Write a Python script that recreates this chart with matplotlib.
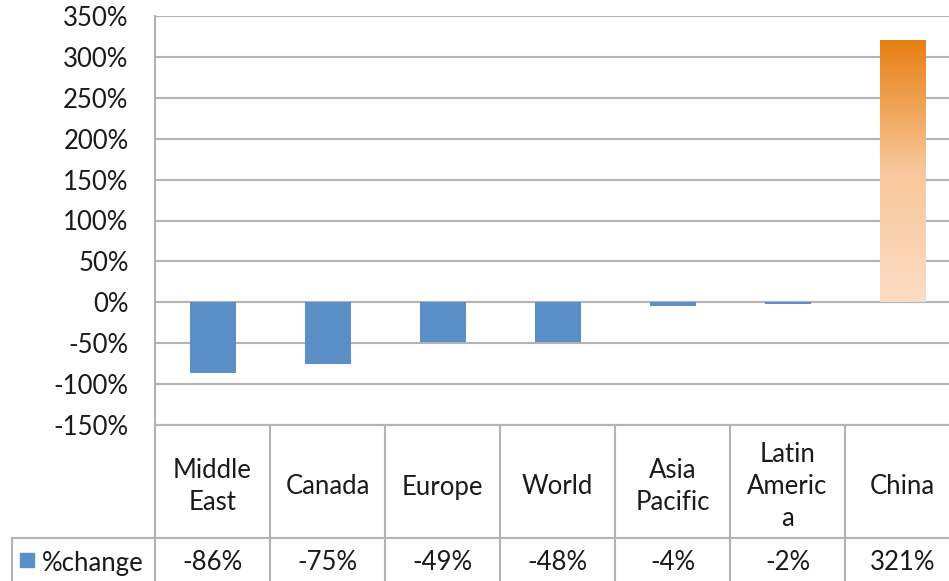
import numpy as np
import matplotlib.pyplot as plt
from matplotlib.transforms import blended_transform_factory
from matplotlib.colors import LinearSegmentedColormap
from matplotlib.patches import Rectangle

regions = ["Middle\nEast", "Canada", "Europe", "World", "Asia\nPacific", "Latin\nAmeric\na", "China"]
pct_change = [-86, -75, -49, -48, -4, -2, 321]
row_label = "%change"
yticks = list(range(-150, 351, 50))

plt.rcParams['font.family'] = ['Lato', 'DejaVu Sans']
fs = 18.5
txt_col = "#1a1a1a"
grid_col = "#b3b3b3"
blue = "#5b8fc8"

col_w = 115.0
fig = plt.figure(figsize=(9.49, 5.81), dpi=100)
ax = fig.add_axes([155 / 949, 1 - 425 / 581, 7 * col_w / 949, 409 / 581])

x = np.arange(len(regions))
bars = ax.bar(x, pct_change, width=0.4, color=blue, zorder=3)

# China bar gets the orange gradient
china = bars[-1]
china.set_facecolor("none")
cmap = LinearSegmentedColormap.from_list("org", ["#fbdcc4", "#f9c79b", "#e77f11"])
grad = np.linspace(0, 1, 256).reshape(-1, 1)
x0, w = china.get_x(), china.get_width()
im = ax.imshow(grad, cmap=cmap, aspect="auto", origin="lower",
               extent=[x0, x0 + w, 0, pct_change[-1]], zorder=3)
im.set_clip_path(china)

ax.set_xlim(-0.5, len(regions) - 0.5)
ax.set_ylim(-150, 350)
ax.set_yticks(yticks)
ax.set_yticklabels([f"{v}%" for v in yticks], fontsize=fs, color=txt_col)
ax.set_xticks([])
ax.tick_params(axis="y", length=0, pad=19)
ax.yaxis.grid(True, color=grid_col, lw=1.5, zorder=0)
for s in ["top", "right", "bottom"]:
    ax.spines[s].set_visible(False)
ax.spines["left"].set_color(grid_col)
ax.spines["left"].set_linewidth(1.5)

# data table under the plot
tr = blended_transform_factory(ax.transData, ax.transAxes)
h1 = -113 / 409
h2 = -160 / 409
left_x = -0.5 - 143 / col_w
line_kw = dict(color=grid_col, lw=1.5, transform=tr, clip_on=False)
ax.plot([-0.5, len(regions) - 0.5], [0, 0], **line_kw)
ax.plot([left_x, len(regions) - 0.5], [h1, h1], **line_kw)
ax.plot([left_x, left_x], [h1, h2], **line_kw)
ax.plot([-0.5, -0.5], [0, h2], **line_kw)
for i in range(len(regions)):
    ax.plot([i + 0.5, i + 0.5], [0, h2], **line_kw)
    ax.text(i, -62 / 409, regions[i], transform=tr, ha="center", va="center",
            fontsize=fs, color=txt_col, linespacing=1.35)
    ax.text(i, -138 / 409, f"{pct_change[i]}%", transform=tr, ha="center", va="center",
            fontsize=fs, color=txt_col)

ax.add_patch(Rectangle((left_x + 0.07, -142 / 409), 0.12, 14 / 409, transform=tr,
                       color=blue, clip_on=False))
ax.text(left_x + 0.26, -138 / 409, row_label, transform=tr, ha="left", va="center",
        fontsize=fs, color=txt_col)

fig.savefig("out.png", dpi=100)
